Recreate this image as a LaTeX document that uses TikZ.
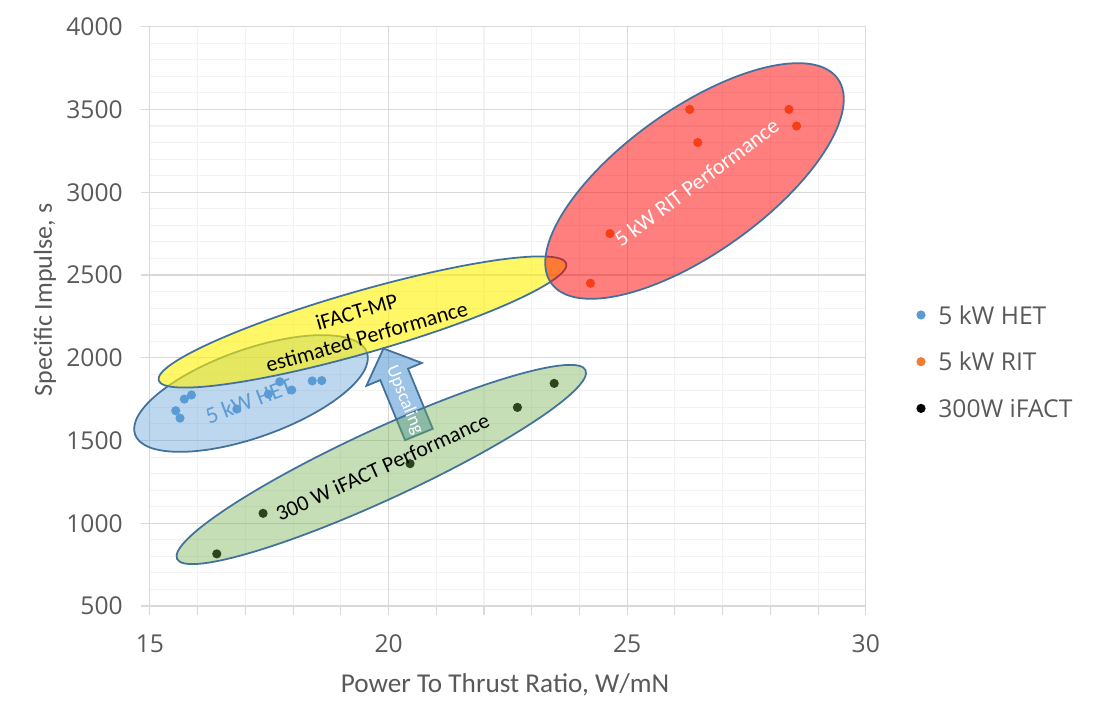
\documentclass[tikz,border=0pt]{standalone}
\usepackage{fontspec}
\setmainfont{Carlito}
\newfontfamily\tickfont{Open Sans}
\usetikzlibrary{arrows.meta}

\definecolor{hetblue}{HTML}{5B9BD5}
\definecolor{ritorange}{HTML}{ED7D31}
\definecolor{factgreen}{HTML}{70AD47}
\definecolor{rimblue}{HTML}{41719C}
\definecolor{gridmajor}{HTML}{D9D9D9}
\definecolor{gridminor}{HTML}{F2F2F2}
\definecolor{labelgrey}{HTML}{595959}

\tikzset{
	blob/.style={draw=rimblue, line width=1pt},
	ticklabel/.style={font=\tickfont\fontsize{14}{17}\selectfont, text=labelgrey, inner sep=0pt},
	axistitle/.style={font=\fontsize{15.5}{18}\selectfont, text=labelgrey, inner sep=0pt},
	bloblabel/.style={font=\fontsize{12.5}{15.2}\selectfont, inner sep=0pt, align=center},
}

\begin{document}
\begin{tikzpicture}[x=0.02cm,y=0.02cm]
		\useasboundingbox (0,0) rectangle (1098,726);

		% chart frame in data units
		\begin{scope}[x=0.9546cm, y=0.0033086cm, shift={(3cm,2.4cm)}, shift={(-15,-500)}]
			\foreach \x in {16,...,29}
				\draw [gridminor,line width=0.6pt] (\x,500)--(\x,4000) ;
			\foreach \y in {600,700,...,3900}
				\draw [gridminor,line width=0.6pt] (15,\y)--(30,\y) ;
			\foreach \x in {15,20,25,30}
				\draw [gridmajor,line width=0.6pt] (\x,500)--(\x,4000) ;
			\foreach \y in {500,1000,...,4000} {
				\draw [gridmajor,line width=0.6pt] (15,\y)--(30,\y) ;
				\draw [gridmajor,line width=0.6pt] (15,\y)-- ++(-0.18cm,0) ;
				\node [ticklabel,anchor=east] (ytick\y) at ([xshift=-0.54cm]15,\y) {\y} ;
			}
			\foreach \x in {15,...,30}
				\draw [gridmajor,line width=0.6pt] (\x,500)-- ++(0,-0.17cm) ;
			\foreach \x in {15,20,25,30}
				\node [ticklabel] (xtick\x) at ([yshift=-0.748cm]\x,500) {\x} ;

			% measured points
			\foreach \x/\y in {15.54/1680,15.63/1635,15.72/1750,15.87/1775,16.82/1690,17.48/1780,17.72/1855,17.97/1805,18.40/1860,18.60/1862}
				\fill [hetblue] (\x,\y) circle [radius=0.092cm] ;
			\foreach \x/\y in {26.31/3500,28.39/3500,28.55/3400,26.48/3300,24.64/2750,24.23/2450}
				\fill [ritorange] (\x,\y) circle [radius=0.092cm] ;
			\foreach \x/\y in {16.40/815,17.37/1060,20.45/1360,22.70/1700,23.47/1845}
				\fill [black] (\x,\y) circle [radius=0.092cm] ;
		\end{scope}

		% performance regions
		\draw [blob,fill=hetblue,fill opacity=0.4,rotate around={19.5:(251,332.5)}] (251,332.5) ellipse [x radius=123, y radius=44] ;
		\node [bloblabel,text=hetblue,rotate=20.7,font=\fontsize{13.3}{16}\selectfont] (hetlabel) at (249,325) {5 kW HET} ;

		\draw [blob,fill=yellow,fill opacity=0.6,rotate around={16:(362.5,404)}] (362.5,404) ellipse [x radius=212, y radius=31] ;
		\node [bloblabel,rotate=16] (mptop) at (356.7,414.3) {iFACT-MP} ;
		\node [bloblabel,rotate=16] (mplabel) at (366.7,389.3) {estimated Performance} ;

		\begin{scope}[shift={(418.9,291.5)}, rotate=22.4]
			\draw [blob,fill=hetblue,fill opacity=0.6] (-15,0)--(-15,65)--(-30,65)--(0,93)--(30,65)--(15,65)--(15,0)--cycle ;
			\coordinate (upmid) at (0,37) ;
		\end{scope}

		\draw [blob,fill=factgreen,fill opacity=0.4,rotate around={24.8:(381.3,261.5)}] (381.3,261.5) ellipse [x radius=225, y radius=35] ;
		\node [bloblabel,rotate=24.5] (factlabel) at (382.5,259) {300 W iFACT Performance} ;

		\draw [blob,fill=red,fill opacity=0.5,rotate around={35.5:(694.5,545)}] (694.5,545) ellipse [x radius=176, y radius=72] ;
		\node [bloblabel,text=white,rotate=36.6] (ritlabel) at (696.5,543.5) {5 kW RIT Performance} ;

		\node [bloblabel,text=white,rotate=-67.6,font=\fontsize{10.5}{12}\selectfont] (uplabel) at (upmid) {Upscaling} ;

		% axis titles
		\node [axistitle] (xtitle) at (505,41) {Power To Thrust Ratio, W/mN} ;
		\node [axistitle,rotate=90,font=\fontsize{14.8}{18}\selectfont] (ytitle) at (45,426) {Specific Impulse, s} ;

		% legend
		\foreach \c/\t [count=\i] in {hetblue/5 kW HET,ritorange/5 kW RIT,black/300W iFACT} {
			\fill [\c] (921,{411-46.7*(\i-1)}) circle [radius=4.6] ;
			\node [ticklabel,anchor=west] (legend\i) at (938,{411-46.7*(\i-1)}) {\t} ;
		}

\end{tikzpicture}
\end{document}
